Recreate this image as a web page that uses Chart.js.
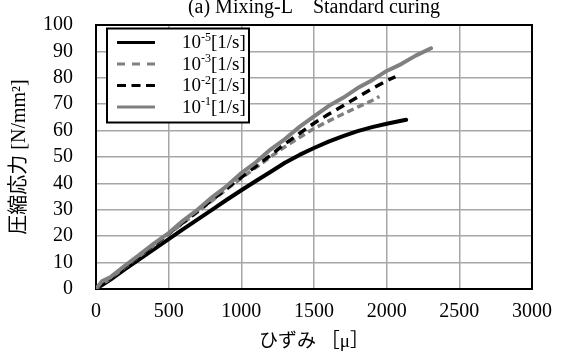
<!DOCTYPE html>
<html>
<head>
<meta charset="utf-8">
<script src="https://cdn.jsdelivr.net/npm/chart.js@4.4.1/dist/chart.umd.min.js"></script>
<style>
    html, body { margin: 0; padding: 0; background: #fff; overflow: hidden; }
    #wrap { position: absolute; left: 0; top: -10px; width: 563px; height: 364px; }
</style>
</head>
<body>
<div id="wrap"><canvas id="stressChart"></canvas></div>
<script>
// chart texts
const chartTitle = '(a) Mixing-L\u3000Standard curing';
const xAxisTitle = 'ひずみ ［μ］';
const yAxisTitle = '圧縮応力 [N/mm²]';

// axes
const xTicks = { min: 0, max: 3000, step: 500 };
const yTicks = { min: 0, max: 100, step: 10 };

// strain rate exponents (legend: 10^n [1/s])
const rateExponents = ['-5', '-3', '-2', '-1'];

// 10^-5 [1/s]
const strainRate5 = [0, 100, 200, 300, 400, 500, 600, 700, 800, 900, 1000, 1100, 1200, 1300, 1400, 1500, 1600, 1700, 1800, 1900, 2000, 2100, 2134];
const stressRate5 = [0, 3.6, 7.5, 11.3, 15.1, 18.9, 22.7, 26.4, 30.1, 33.8, 37.4, 40.9, 44.3, 47.8, 50.8, 53.4, 55.8, 57.9, 59.8, 61.3, 62.6, 63.7, 64.1];

// 10^-3 [1/s]
const strainRate3 = [0, 100, 200, 300, 400, 500, 600, 700, 800, 900, 1000, 1100, 1200, 1300, 1400, 1500, 1600, 1700, 1800, 1900, 1950];
const stressRate3 = [0, 4.1, 8.3, 12.5, 16.6, 20.8, 25.0, 29.2, 33.5, 37.8, 42.0, 46.0, 50.0, 53.9, 57.4, 60.8, 63.6, 66.3, 68.9, 71.4, 72.9];

// 10^-2 [1/s]
const strainRate2 = [0, 100, 200, 300, 400, 500, 600, 700, 800, 900, 1000, 1100, 1200, 1300, 1400, 1500, 1600, 1700, 1800, 1900, 2000, 2060];
const stressRate2 = [0, 4.2, 8.5, 12.7, 16.8, 21.0, 25.2, 29.5, 33.8, 38.1, 42.3, 46.5, 50.6, 55.0, 58.9, 62.8, 66.2, 69.4, 72.7, 75.9, 78.9, 80.4];

// 10^-1 [1/s]
const strainRate1 = [0, 40, 100, 200, 300, 400, 500, 600, 700, 800, 900, 1000, 1100, 1200, 1300, 1400, 1500, 1600, 1700, 1800, 1900, 2000, 2100, 2200, 2305];
const stressRate1 = [0, 2.9, 4.5, 8.9, 13.0, 17.3, 21.2, 25.9, 30.1, 34.8, 39.0, 43.9, 48.0, 52.8, 56.8, 61.4, 65.4, 69.3, 72.4, 76.1, 79.1, 82.6, 85.2, 88.4, 91.2];

const SERIF = "'Liberation Serif', 'Times New Roman', 'Noto Sans CJK JP', serif";
const GRAY = '#808080';

const toPoints = (xs, ys) => xs.map((x, i) => ({ x: x, y: ys[i] }));

// frame round the plot area
const frame = {
    id: 'frame',
    beforeDatasetsDraw(chart) {
        const { ctx, chartArea: a } = chart;
        ctx.save();
        ctx.strokeStyle = '#000';
        ctx.lineWidth = 2;
        ctx.strokeRect(a.left, a.top, a.right - a.left, a.bottom - a.top);
        ctx.restore();
    }
};

// legend with superscript exponents
const expLegend = {
    id: 'expLegend',
    afterDraw(chart) {
        const { ctx, chartArea: a } = chart;
        const bx = a.left + 11, by = a.top + 3.5, bw = 142, bh = 94;
        ctx.save();
        ctx.fillStyle = '#fff';
        ctx.fillRect(bx, by, bw, bh);
        ctx.strokeStyle = '#000';
        ctx.lineWidth = 2;
        ctx.strokeRect(bx, by, bw, bh);

        chart.data.datasets.forEach((ds, i) => {
            const y = by + 14 + i * 21.5;
            ctx.strokeStyle = ds.borderColor;
            ctx.lineWidth = 3;
            ctx.setLineDash(ds.legendDash || []);
            ctx.beginPath();
            ctx.moveTo(bx + 10, y);
            ctx.lineTo(bx + 48, y);
            ctx.stroke();
            ctx.setLineDash([]);

            ctx.fillStyle = '#000';
            ctx.textBaseline = 'middle';
            ctx.textAlign = 'left';
            let tx = bx + 75;
            ctx.font = `19px ${SERIF}`;
            ctx.fillText('10', tx, y + 1);
            tx += ctx.measureText('10').width;
            ctx.font = `12px ${SERIF}`;
            ctx.fillText(rateExponents[i], tx, y - 5);
            tx += ctx.measureText(rateExponents[i]).width;
            ctx.font = `19px ${SERIF}`;
            ctx.fillText('[1/s]', tx, y + 1);
        });
        ctx.restore();
    }
};

new Chart(document.getElementById('stressChart'), {
    type: 'scatter',
    data: {
        datasets: [
            {
                label: '10^-5[1/s]',
                data: toPoints(strainRate5, stressRate5),
                borderColor: '#000', borderWidth: 4, borderCapStyle: 'round', borderJoinStyle: 'round',
                order: 3
            },
            {
                label: '10^-3[1/s]',
                data: toPoints(strainRate3, stressRate3),
                borderColor: GRAY, borderWidth: 3.5, borderDash: [7, 4], legendDash: [8, 7],
                order: 2
            },
            {
                label: '10^-2[1/s]',
                data: toPoints(strainRate2, stressRate2),
                borderColor: '#000', borderWidth: 3.5, borderDash: [9, 6], legendDash: [9, 5.5],
                order: 1
            },
            {
                label: '10^-1[1/s]',
                data: toPoints(strainRate1, stressRate1),
                borderColor: GRAY, borderWidth: 4, borderCapStyle: 'round', borderJoinStyle: 'round',
                order: 0
            }
        ]
    },
    options: {
        responsive: true,
        maintainAspectRatio: false,
        animation: false,
        showLine: true,
        elements: { point: { radius: 0, hoverRadius: 0 }, line: { tension: 0 } },
        layout: { padding: { left: 0, right: 27, top: 0, bottom: 0 } },
        plugins: {
            legend: { display: false },
            tooltip: { enabled: false },
            title: {
                display: true,
                text: chartTitle,
                fullSize: false,
                color: '#000',
                font: { family: SERIF, size: 20, weight: 'normal' },
                padding: { top: 0, bottom: 5.5 }
            }
        },
        scales: {
            x: {
                type: 'linear',
                min: xTicks.min, max: xTicks.max,
                ticks: {
                    stepSize: xTicks.step, autoSkip: false, color: '#000', padding: 11, maxRotation: 0,
                    font: { family: SERIF, size: 20 },
                    callback: (v) => String(v)
                },
                grid: { color: '#a6a6a6', lineWidth: 1.5, drawTicks: false },
                border: { display: false },
                title: { display: true, text: xAxisTitle, color: '#000', font: { family: SERIF, size: 19 }, padding: { top: 0, bottom: 1 } },
                afterFit: (scale) => { scale.height = 65; }
            },
            y: {
                min: yTicks.min, max: yTicks.max,
                ticks: {
                    stepSize: yTicks.step, autoSkip: false, color: '#000', padding: 23,
                    font: { family: SERIF, size: 20 },
                    callback: (v) => String(v)
                },
                grid: { color: '#a6a6a6', lineWidth: 1.5, drawTicks: false },
                border: { display: false },
                title: { display: true, text: yAxisTitle, color: '#000', font: { family: SERIF, size: 20 }, padding: { top: 8, bottom: 0 } },
                afterFit: (scale) => { scale.width = 96; }
            }
        }
    },
    plugins: [frame, expLegend]
});
</script>
</body>
</html>
